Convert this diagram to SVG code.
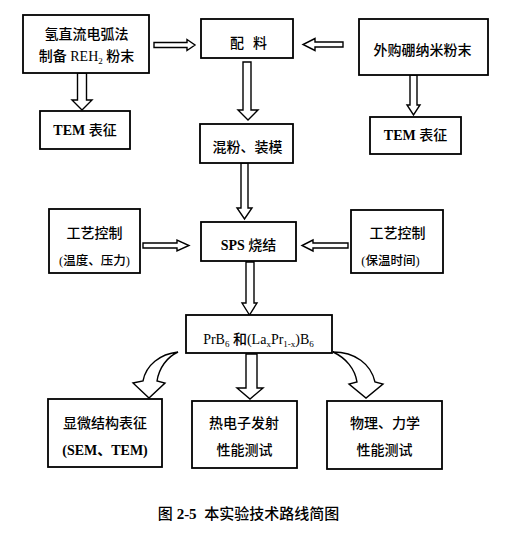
<svg xmlns="http://www.w3.org/2000/svg" width="520" height="538" viewBox="0 0 520 538">
<style>
.box{fill:#fff;stroke:#000;stroke-width:1.8}
.arr{fill:#fff;stroke:#000;stroke-width:1.4;stroke-linejoin:miter}
text{font-family:"Liberation Serif","Noto Sans CJK SC",serif;font-size:14px;font-weight:500;fill:#000;text-anchor:middle}
.sm{font-size:12.5px}
.b{font-weight:bold}
.cap{font-size:15px}
</style>
<rect width="520" height="538" fill="#fff"/>
<g id="connectors">
<path class="arr" d="M154 42.5 H187 V39.5 L195 45 L187 50.5 V47.5 H154 Z"/>
<path class="arr" d="M343 42 H315 V38.5 L303 44.5 L315 50.5 V47 H343 Z"/>
<path class="arr" d="M77.5 73 V100 H72 L82 110 L92 100 H86.5 V73 Z"/>
<path class="arr" d="M243 62 V110 H238 L248 120 L258 110 H251 V62 Z"/>
<path class="arr" d="M410 75 V105 H407 L413.5 115 L420 105 H417 V75 Z"/>
<path class="arr" d="M241 163 V208 H237 L244.5 219 L252 208 H248 V163 Z"/>
<path class="arr" d="M143 243 H177 V240 L189 245.5 L177 251 V248 H143 Z"/>
<path class="arr" d="M348 243 H313 V240 L302 245.5 L313 251 V248 H348 Z"/>
<path class="arr" d="M246 262 V303 H242 L249.5 315 L257 303 H254 V262 Z"/>
<path class="arr" d="M246 354 V388 H237 L250 399 L263 388 H257 V354 Z"/>
<path class="arr" d="M178 352 C160 354 146 365 143 381 L133 383 L149 398 L165 383 L157 381 C159 368 167 357 178 352 Z"/>
<path class="arr" d="M333 352 C355 352 371 364 375 382 L383 384 L366 398 L349 384 L357 382 C355 369 346 358 333 352 Z"/>
</g>
<g id="n-arc">
<rect class="box" x="23" y="15" width="126" height="58"/>
<text x="86.5" y="39">氢直流电弧法</text>
<text x="86.5" y="61">制备 REH<tspan font-size="9" dy="3">2</tspan><tspan dy="-3"> 粉末</tspan></text>
</g>
<g id="n-mix">
<rect class="box" x="201" y="19" width="92" height="39"/>
<text x="237" y="48">配</text>
<text x="260" y="48">料</text>
</g>
<g id="n-boron">
<rect class="box" x="359" y="19" width="129" height="56"/>
<text x="422.5" y="55">外购硼纳米粉末</text>
</g>
<g id="n-tem1">
<rect class="box" x="40" y="111" width="90" height="38"/>
<text x="85" y="135"><tspan class="b">TEM</tspan> 表征</text>
</g>
<g id="n-mold">
<rect class="box" x="200" y="124" width="93" height="39"/>
<text x="247.5" y="152">混粉、装模</text>
</g>
<g id="n-tem2">
<rect class="box" x="370" y="117" width="91" height="37"/>
<text x="415.5" y="140"><tspan class="b">TEM</tspan> 表征</text>
</g>
<g id="n-ctrl-l">
<rect class="box" x="49" y="209" width="91" height="64"/>
<text x="94.5" y="238">工艺控制</text>
<text class="sm" x="94.5" y="265">(温度、压力)</text>
</g>
<g id="n-sps">
<rect class="box" x="201" y="222" width="95" height="39"/>
<text x="248.5" y="250"><tspan class="b">SPS</tspan> 烧结</text>
</g>
<g id="n-ctrl-r">
<rect class="box" x="351" y="210" width="92" height="63"/>
<text x="397.5" y="238">工艺控制</text>
<text class="sm" x="390.5" y="265">(保温时间)</text>
</g>
<g id="n-product">
<rect class="box" x="186" y="315" width="146" height="38"/>
<text x="258.5" y="344">PrB<tspan font-size="9" dy="3">6</tspan><tspan dy="-3"> 和(La</tspan><tspan font-size="9" dy="3">x</tspan><tspan dy="-3">Pr</tspan><tspan font-size="9" dy="3">1-x</tspan><tspan dy="-3">)B</tspan><tspan font-size="9" dy="3">6</tspan></text>
</g>
<g id="n-micro">
<rect class="box" x="48" y="399" width="114" height="68"/>
<text x="105" y="428">显微结构表征</text>
<text x="105" y="455"><tspan class="b">(SEM、TEM)</tspan></text>
</g>
<g id="n-thermo">
<rect class="box" x="192" y="401" width="105" height="67"/>
<text x="244" y="428">热电子发射</text>
<text x="244.5" y="455">性能测试</text>
</g>
<g id="n-phys">
<rect class="box" x="327" y="401" width="115" height="68"/>
<text x="385" y="428">物理、力学</text>
<text x="384.5" y="455">性能测试</text>
</g>
<text class="cap" x="248.5" y="519" xml:space="preserve">图 <tspan class="b">2-5</tspan>  本实验技术路线简图</text>
</svg>
